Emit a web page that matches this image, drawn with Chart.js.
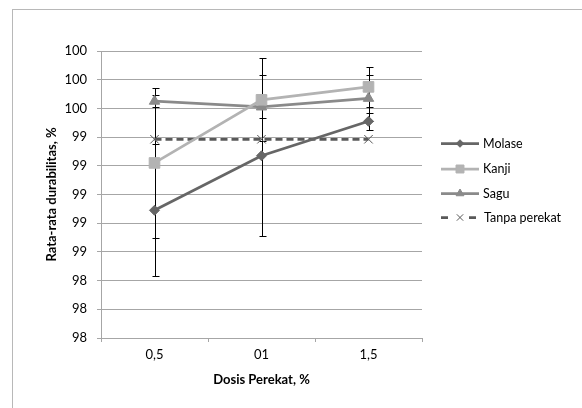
<!DOCTYPE html>
<html><head><meta charset="utf-8">
<script src="https://cdn.jsdelivr.net/npm/chart.js@4.4.1/dist/chart.umd.min.js"></script>
<style>html,body{margin:0;padding:0;background:#fff;}#wrap{width:582px;height:408px;}</style>
</head><body><div id="wrap"><canvas id="c" width="582" height="408"></canvas></div>
<script>
const categories = ['0,5', '01', '1,5'];
const molase = [98.89, 99.27, 99.51];
const molaseErr = [0.46, 0.56, 0.06];
const kanji = [99.22, 99.66, 99.75];
const kanjiErr = [0.52, 0.29, 0.14];
const sagu = [99.65, 99.61, 99.67];
const saguErr = [0.04, 0.08, 0.16];
const tanpa = [99.385, 99.385, 99.385];
const yTickLabels = ['98','98','98','99','99','99','99','99','100','100','100'];
const xTitle = 'Dosis Perekat, %';
const yTitle = 'Rata-rata durabilitas, %';
const FONT = 'Lato';

const borderPlugin = {
  id: 'outerBorder',
  beforeDraw(chart) {
    const ctx = chart.ctx;
    ctx.save();
    ctx.fillStyle = '#fff';
    ctx.fillRect(0, 0, chart.width, chart.height);
    ctx.strokeStyle = '#b8b8b8';
    ctx.lineWidth = 1;
    ctx.strokeRect(12.5, 9.5, 600, 420);
    ctx.restore();
  }
};

const errorPlugin = {
  id: 'errorBars',
  beforeDatasetsDraw(chart) {
    const ctx = chart.ctx;
    const xs = chart.scales.x, ys = chart.scales.y;
    ctx.save();
    ctx.strokeStyle = '#000';
    ctx.lineWidth = 1;
    chart.data.datasets.forEach(ds => {
      if (!ds.errors) return;
      ds.data.forEach((v, i) => {
        const e = ds.errors[i];
        const x = Math.round(xs.getPixelForValue(i)) + 0.5;
        const yt = Math.round(ys.getPixelForValue(v + e)) + 0.5;
        const yb = Math.round(ys.getPixelForValue(v - e)) + 0.5;
        ctx.beginPath();
        ctx.moveTo(x, yt); ctx.lineTo(x, yb);
        ctx.moveTo(x - 3, yt); ctx.lineTo(x + 4, yt);
        ctx.moveTo(x - 3, yb); ctx.lineTo(x + 4, yb);
        ctx.stroke();
      });
    });
    ctx.restore();
  }
};

const legendPlugin = {
  id: 'customLegend',
  afterDraw(chart) {
    const ctx = chart.ctx;
    const x0 = 441, x1 = 479, tx = 483;
    const ys = [143.5, 169, 193.5, 217.5];
    ctx.save();
    chart.data.datasets.forEach((ds, i) => {
      const y = ys[i];
      ctx.strokeStyle = ds.borderColor;
      ctx.lineWidth = ds.borderWidth;
      ctx.setLineDash(ds.borderDash || []);
      ctx.beginPath();
      if (ds.borderDash) {
        ctx.moveTo(x0, y); ctx.lineTo(x0 + 10, y);
        ctx.moveTo(x1 - 10, y); ctx.lineTo(x1, y);
      } else {
        ctx.moveTo(x0, y); ctx.lineTo(x1, y);
      }
      ctx.stroke();
      ctx.setLineDash([]);
      ctx.fillStyle = ds.borderColor;
      ctx.strokeStyle = ds.borderColor;
      ctx.lineWidth = 1;
      Chart.helpers.drawPoint(ctx, {
        pointStyle: ds.pointStyle,
        radius: ds.legendRadius,
        borderWidth: 1
      }, (x0 + x1) / 2, y);
      ctx.fillStyle = '#000';
      ctx.font = '12.5px ' + FONT;
      ctx.textBaseline = 'middle';
      ctx.textAlign = 'left';
      ctx.fillText(ds.label, ds.borderDash ? tx + 1 : tx, y);
    });
    ctx.restore();
  }
};

function mk(label, data, errors, color, style, radius, lw, dash) {
  return {
    label, data, errors,
    borderColor: color, backgroundColor: color,
    pointBackgroundColor: color, pointBorderColor: color,
    pointStyle: style, pointRadius: radius, pointHoverRadius: radius,
    pointBorderWidth: 1,
    legendRadius: radius * 0.75,
    borderWidth: lw, borderDash: dash, tension: 0, fill: false
  };
}

const ctxEl = document.getElementById('c');
new Chart(ctxEl, {
  type: 'line',
  data: {
    labels: categories,
    datasets: [
      mk('Molase', molase, molaseErr, '#666666', 'rectRot', 5, 2.75),
      mk('Kanji', kanji, kanjiErr, '#b3b3b3', 'rect', 7.5, 2.75),
      mk('Sagu', sagu, saguErr, '#8a8a8a', 'triangle', 6, 2.75),
      mk('Tanpa perekat', tanpa, null, '#595959', 'crossRot', 6, 2.75, [7, 4])
    ]
  },
  options: {
    responsive: false,
    animation: false,
    devicePixelRatio: 1,
    layout: { padding: { left: 0, top: 51, right: 160, bottom: 0 } },
    plugins: { legend: { display: false }, tooltip: { enabled: false } },
    scales: {
      x: {
        offset: true,
        afterFit(s) { s.height = 70; },
        grid: { display: true, drawOnChartArea: false, drawTicks: true, tickLength: 4, color: '#a6a6a6', offset: true },
        border: { color: '#a6a6a6' },
        ticks: { color: '#000', font: { family: FONT, size: 13 }, padding: 5 },
        title: { display: true, text: xTitle, color: '#000', font: { family: FONT, size: 13, weight: 'bold' }, padding: { top: 0, bottom: 20 } }
      },
      y: {
        min: 98, max: 100,
        afterFit(s) { s.width = 101; },
        grid: { color: '#a6a6a6', tickLength: 4 },
        border: { color: '#a6a6a6' },
        ticks: {
          stepSize: 0.2, color: '#000', font: { family: FONT, size: 13 }, padding: 10,
          callback: (v, i) => yTickLabels[i]
        },
        title: { display: true, text: yTitle, color: '#000', font: { family: FONT, size: 13, weight: 'bold' }, padding: { top: 44, bottom: 0 } }
      }
    }
  },
  plugins: [borderPlugin, errorPlugin, legendPlugin]
});
</script>
</body></html>
